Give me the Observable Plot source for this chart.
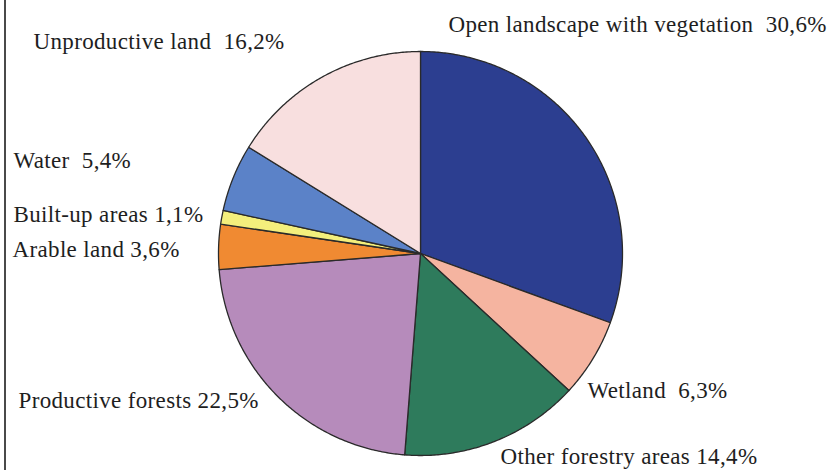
<!DOCTYPE html>
<html>
<head>
<meta charset="utf-8">
<script src="https://cdn.jsdelivr.net/npm/d3@7"></script>
<script src="https://cdn.jsdelivr.net/npm/@observablehq/plot@0.6"></script>
<style>
  html, body { margin: 0; padding: 0; background: #fff; }
  #wrap { position: relative; width: 840px; height: 470px; overflow: hidden; }
  #edge { position: absolute; left: 4px; top: 0; width: 2px; height: 470px; background: #4a4a4a; }
</style>
</head>
<body>
<div id="wrap"><div id="edge"></div></div>
<script>
// Data (clockwise from 12 o'clock)
const categories = [
  "Open landscape with vegetation",
  "Wetland",
  "Other forestry areas",
  "Productive forests",
  "Arable land",
  "Built-up areas",
  "Water",
  "Unproductive land"
];
const shares = [30.6, 6.3, 14.4, 22.5, 3.6, 1.1, 5.4, 16.2];
const labelTexts = [
  "Open landscape with vegetation\u00a0 30,6%",
  "Wetland\u00a0 6,3%",
  "Other forestry areas 14,4%",
  "Productive forests 22,5%",
  "Arable land 3,6%",
  "Built-up areas 1,1%",
  "Water\u00a0 5,4%",
  "Unproductive land\u00a0 16,2%"
];
const colors = ["#2c3e90", "#f5b4a0", "#2e7b5c", "#b68bbb", "#f08a32", "#f4ef7c", "#5b82c8", "#f8dfdf"];

// Layout: label anchor points in pixel space (start of text, baseline)
const labelPixels = [[448, 31], [587, 397], [500, 463], [18, 407], [12, 256], [13, 221], [13, 167], [33, 48]];

const W = 840, H = 470, CX = 420, CY = 253, R = 202;

const pie = d3.pie().sort(null).value(d => d)(shares);
const slices = [];
pie.forEach((p, i) => {
  const cat = categories[i];
  slices.push({cat, x: 0, y: 0});
  const n = Math.max(2, Math.ceil((p.endAngle - p.startAngle) / (Math.PI / 360)));
  for (let k = 0; k <= n; k++) {
    const a = p.startAngle + (p.endAngle - p.startAngle) * k / n;
    slices.push({cat, x: Math.sin(a), y: Math.cos(a)});
  }
  slices.push({cat, x: 0, y: 0});
});

const labels = labelTexts.map((t, i) => ({
  text: t,
  x: (labelPixels[i][0] - CX) / R,
  y: (CY - labelPixels[i][1]) / R
}));

const chart = Plot.plot({
  width: W,
  height: H,
  marginLeft: CX - R,
  marginRight: W - CX - R,
  marginTop: CY - R,
  marginBottom: H - CY - R,
  x: {domain: [-1, 1], axis: null},
  y: {domain: [-1, 1], axis: null},
  color: {domain: categories, range: colors},
  style: {background: "#fff", overflow: "visible"},
  marks: [
    Plot.line(slices, {x: "x", y: "y", z: "cat", fill: "cat", stroke: "#2a2a2a", strokeWidth: 1.3, strokeLinejoin: "round", curve: "linear"}),
    Plot.text(labels, {x: "x", y: "y", text: "text", textAnchor: "start", lineAnchor: "bottom", fontSize: 23, fontFamily: "Liberation Serif", fill: "#1e1e1e"})
  ]
});
d3.select(chart).selectAll("text")
  .style("font-family", "'Liberation Serif', serif")
  .style("letter-spacing", "0.35px");
document.getElementById("wrap").appendChild(chart);
</script>
</body>
</html>
